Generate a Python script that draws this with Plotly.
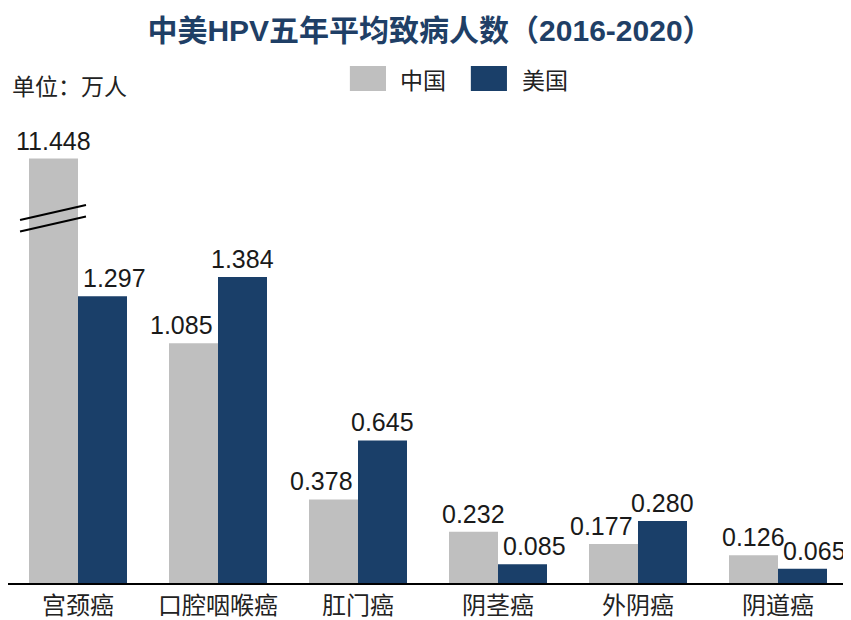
import plotly.graph_objects as go

categories = ["宫颈癌", "口腔咽喉癌", "肛门癌", "阴茎癌", "外阴癌", "阴道癌"]
china = [11.448, 1.085, 0.378, 0.232, 0.177, 0.126]
usa = [1.297, 1.384, 0.645, 0.085, 0.280, 0.065]
series_names = ["中国", "美国"]

# broken axis: values above the cap are drawn at the cap height
BREAK_CAP = 1.92

def shown(vals):
    return [min(v, BREAK_CAP) for v in vals]

FONT = "Liberation Sans, Arial, Noto Sans CJK SC, sans-serif"
CJK = "Noto Sans CJK SC, sans-serif"
GRAY = "#BFBFBF"
BLUE = "#1A3F69"
COLORS = [GRAY, BLUE]
BAR_HALF = 0.175   # half of one bar's width in category units (bargap 0.3, 2 bars)
LABEL_NUDGE = 12   # px: shorter bar's label moves away from the taller neighbour

fig = go.Figure()
for name, vals, col in zip(series_names, [china, usa], COLORS):
    fig.add_trace(go.Bar(
        name=name, x=list(range(len(categories))), y=shown(vals),
        marker=dict(color=col, line=dict(width=0)),
        showlegend=False, cliponaxis=False,
    ))

# value labels (shorter bar's label nudged outward, as in the original)
for i in range(len(categories)):
    c, u = shown(china)[i], shown(usa)[i]
    for val, disp, side, other in ((china[i], c, -1, u), (usa[i], u, 1, c)):
        fig.add_annotation(
            x=i + side * BAR_HALF, y=disp, xref="x", yref="y",
            text=f"{val:.3f}", showarrow=False,
            xanchor="center", yanchor="bottom", yshift=2,
            xshift=side * LABEL_NUDGE if disp < other else 0,
            font=dict(size=25, color="#1a1a1a", family=FONT))

# break marks on the capped bar
for i, v in enumerate(china):
    if v > BREAK_CAP:
        for frac in (0.873, 0.846):
            base = BREAK_CAP * frac
            fig.add_shape(type="line", xref="x", yref="y",
                          x0=i - 0.414, x1=i + 0.057,
                          y0=base - 0.034, y1=base + 0.034,
                          line=dict(color="black", width=2))

# custom legend (large swatches)
legend_pos = [(0.407, 0.464), (0.551, 0.6095)]
for (sx, tx), name, col in zip(legend_pos, series_names, COLORS):
    fig.add_shape(type="rect", xref="paper", yref="paper",
                  x0=sx, x1=sx + 0.043, y0=1.0358, y1=1.0884,
                  fillcolor=col, line=dict(width=0))
    fig.add_annotation(text=name, xref="paper", yref="paper", x=tx, y=1.061,
                       xanchor="left", yanchor="middle", showarrow=False,
                       font=dict(size=23, color="#222", family=CJK))

fig.update_layout(
    width=843, height=612,
    margin=dict(l=0, r=3, t=100, b=37),
    paper_bgcolor="white", plot_bgcolor="white",
    barmode="group", bargap=0.3, bargroupgap=0,
    title=dict(text="<b>中美HPV五年平均致病人数（2016-2020）</b>",
               xref="paper", x=0.5024, xanchor="center",
               yref="container", y=0.964, yanchor="middle",
               font=dict(size=30, color="#1F3F66", family=FONT)),
    showlegend=False,
)
fig.update_xaxes(showline=True, linecolor="black", linewidth=2, ticks="",
                 tickmode="array", tickvals=list(range(len(categories))),
                 ticktext=categories, range=[-0.5, len(categories) - 0.5],
                 tickfont=dict(size=24, color="#222", family=CJK), showgrid=False)
fig.update_yaxes(range=[0, 2.149], visible=False, showgrid=False)

fig.add_annotation(text="单位：万人", xref="paper", yref="paper", x=0.0024, y=1.048,
                   xanchor="left", yanchor="middle", showarrow=False,
                   font=dict(size=23, color="#222", family=CJK))

fig.write_html("out.html")
